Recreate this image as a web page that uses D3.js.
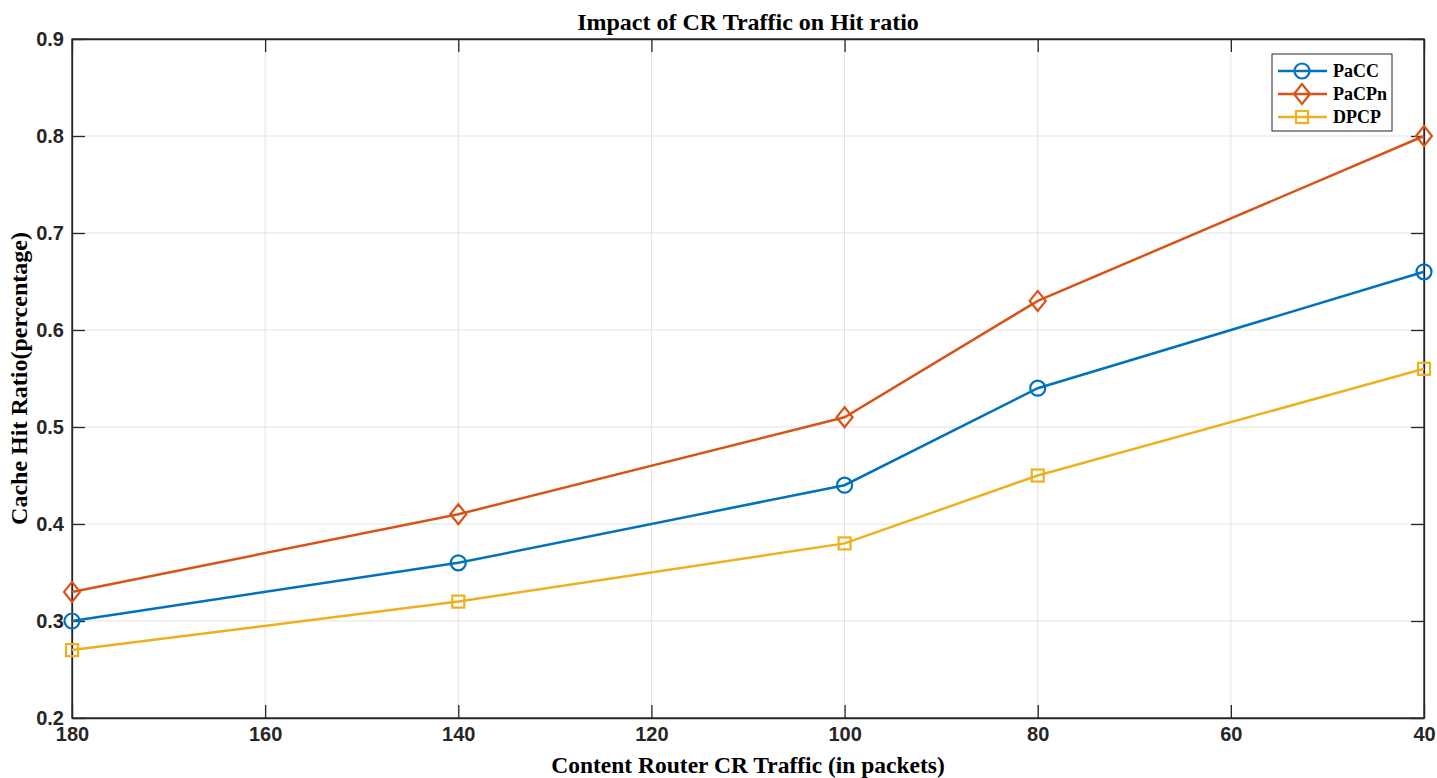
<!DOCTYPE html>
<html>
<head>
<meta charset="utf-8">
<script src="https://cdn.jsdelivr.net/npm/d3@7"></script>
<style>
  body { margin: 0; background: #fff; }
  .tick text { font-family: "Liberation Sans Narrow", "Arial Narrow", "Liberation Sans", sans-serif; font-weight: bold; }
  .serif { font-family: "Liberation Serif", "DejaVu Serif", serif; font-weight: bold; }
</style>
</head>
<body>
<svg id="chart" width="1437" height="778"></svg>
<script>
/** Categories (x axis, packets) */
var traffic = [180, 140, 100, 80, 40];

/** Hit ratio per scheme */
var pacc  = [0.30, 0.36, 0.44, 0.54, 0.66],
    pacpn = [0.33, 0.41, 0.51, 0.63, 0.80],
    dpcp  = [0.27, 0.32, 0.38, 0.45, 0.56];

var seriesNames = ['PaCC', 'PaCPn', 'DPCP'];
var xTicks = [180, 160, 140, 120, 100, 80, 60, 40];
var yTicks = [0.2, 0.3, 0.4, 0.5, 0.6, 0.7, 0.8, 0.9];

var colors = ['#0072BD', '#D95319', '#EDB120'],
    markers = ['circle', 'diamond', 'square'];

var margin = {left: 72, right: 13, top: 39, bottom: 60},
    width = 1437 - margin.left - margin.right,
    height = 778 - margin.top - margin.bottom;

var svg = d3.select('#chart');
var g = svg.append('g').attr('transform', 'translate(' + margin.left + ',' + margin.top + ')');

var x = d3.scaleLinear().domain([180, 40]).range([0, width]);
var y = d3.scaleLinear().domain([0.2, 0.9]).range([height, 0]);

// grid
g.append('g').selectAll('line').data(xTicks).enter().append('line')
  .attr('x1', d => x(d)).attr('x2', d => x(d))
  .attr('y1', 0).attr('y2', height)
  .attr('stroke', '#e3e3e3').attr('stroke-width', 1);
g.append('g').selectAll('line').data(yTicks).enter().append('line')
  .attr('y1', d => y(d)).attr('y2', d => y(d))
  .attr('x1', 0).attr('x2', width)
  .attr('stroke', '#e3e3e3').attr('stroke-width', 1);

// axes (inward ticks, MATLAB style)
var tickLen = 13;
g.append('g').attr('transform', 'translate(0,' + height + ')')
  .call(d3.axisBottom(x).tickValues(xTicks).tickSizeInner(-tickLen).tickSizeOuter(0).tickPadding(9));
g.append('g')
  .call(d3.axisLeft(y).tickValues(yTicks).tickFormat(d3.format('.1f')).tickSizeInner(-tickLen).tickSizeOuter(0).tickPadding(8));
g.append('g').call(d3.axisTop(x).tickValues(xTicks).tickSizeInner(-tickLen).tickSizeOuter(0).tickFormat(''));
g.append('g').attr('transform', 'translate(' + width + ',0)')
  .call(d3.axisRight(y).tickValues(yTicks).tickSizeInner(-tickLen).tickSizeOuter(0).tickFormat(''));

g.selectAll('.domain').attr('stroke', '#262626').attr('stroke-width', 1.3);
g.selectAll('.tick line').attr('stroke', '#262626').attr('stroke-width', 1.3);
g.selectAll('.tick text').attr('fill', '#262626').style('font-size', '20px');

g.append('rect').attr('width', width).attr('height', height)
  .attr('fill', 'none').attr('stroke', '#262626').attr('stroke-width', 1.3);

// series
var data = [pacc, pacpn, dpcp];
var line = d3.line().x((d, i) => x(traffic[i])).y(d => y(d));

function drawMarker(sel, type, color) {
  if (type == 'circle') {
    sel.append('circle').attr('r', 7.5);
  } else if (type == 'diamond') {
    sel.append('path').attr('d', 'M0,-10L8,0L0,10L-8,0Z');
  } else {
    sel.append('rect').attr('x', -6).attr('y', -6).attr('width', 12).attr('height', 12);
  }
  sel.selectAll('*').attr('fill', 'none').attr('stroke', color).attr('stroke-width', 2.2);
}

data.forEach(function(vals, k) {
  g.append('path').datum(vals)
    .attr('d', line)
    .attr('fill', 'none')
    .attr('stroke', colors[k])
    .attr('stroke-width', 2.5);
  vals.forEach(function(v, i) {
    var m = g.append('g').attr('transform', 'translate(' + x(traffic[i]) + ',' + y(v) + ')');
    drawMarker(m, markers[k], colors[k]);
  });
});

// legend
var lg = svg.append('g').attr('transform', 'translate(1272,54)');
lg.append('rect').attr('width', 120).attr('height', 77)
  .attr('fill', '#fff').attr('stroke', '#262626').attr('stroke-width', 1);
seriesNames.forEach(function(name, k) {
  var row = lg.append('g').attr('transform', 'translate(0,' + (17 + k * 23) + ')');
  row.append('line').attr('x1', 6).attr('x2', 55)
    .attr('stroke', colors[k]).attr('stroke-width', 2.5);
  var m = row.append('g').attr('transform', 'translate(30,0)');
  drawMarker(m, markers[k], colors[k]);
  row.append('text').attr('class', 'serif').attr('x', 61).attr('y', 6)
    .style('font-size', '18px').attr('fill', '#000').text(name);
});

// labels
svg.append('text').attr('class', 'serif')
  .attr('x', margin.left + width / 2).attr('y', 30)
  .attr('text-anchor', 'middle').style('font-size', '24px')
  .text('Impact of CR Traffic on Hit ratio');

svg.append('text').attr('class', 'serif')
  .attr('x', margin.left + width / 2).attr('y', 773)
  .attr('text-anchor', 'middle').style('font-size', '23.5px')
  .text('Content Router CR Traffic (in packets)');

svg.append('text').attr('class', 'serif')
  .attr('transform', 'translate(27,' + (margin.top + height / 2) + ') rotate(-90)')
  .attr('text-anchor', 'middle').style('font-size', '24px')
  .text('Cache Hit Ratio(percentage)');
</script>
</body>
</html>
